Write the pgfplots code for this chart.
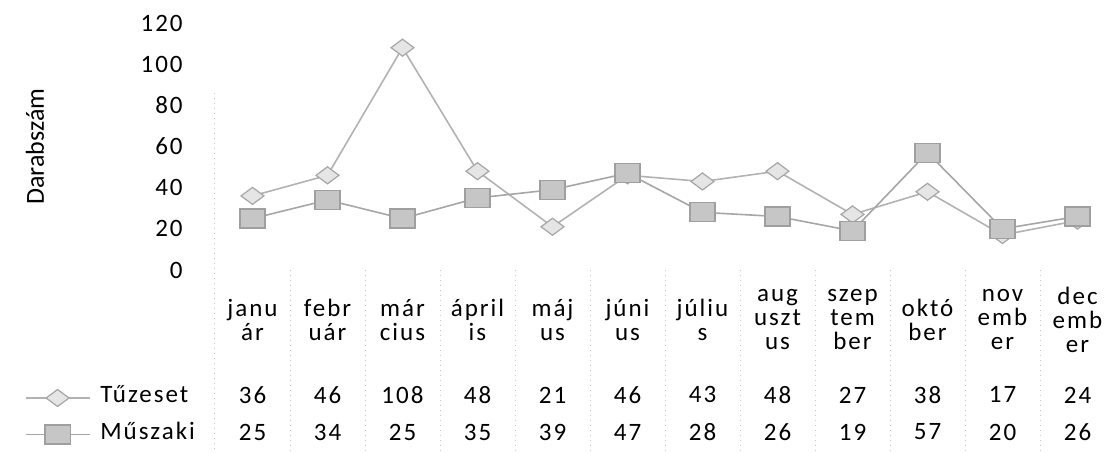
\documentclass[border=0pt]{standalone}
\usepackage{pgfplots}
\pgfplotsset{compat=1.18}
\usepackage{pgfplotstable}
\usepackage{fontspec}
\setmainfont{Carlito}
\newfontfamily\spaced{Carlito}[LetterSpace=8]

% havi adatok
\pgfplotstableread{
x tuz musz
0 36 25
1 46 34
2 108 25
3 48 35
4 21 39
5 46 47
6 43 28
7 48 26
8 27 19
9 38 57
10 17 20
11 24 26
}\honap

\newcommand{\tablefont}{\spaced\fontsize{12.5}{12}\selectfont}

\begin{document}
\begin{tikzpicture}
\useasboundingbox (0,0) rectangle (559pt,226.5pt);
\begin{axis}[
  at={(107.5pt,91.5pt)}, anchor=south west,
  scale only axis, width=450pt, height=123.5pt,
  xmin=-0.5, xmax=11.5, ymin=0, ymax=120,
  clip=false,
  axis line style={draw=none}, major tick length=0pt,
  /pgf/number format/assume math mode=true,
  ytick={0,20,...,120},
  yticklabel style={font=\tablefont, anchor=east, inner sep=0pt, xshift=-16pt},
  xtick={0,...,11},
  xticklabels={{janu\\ár},{febr\\uár},{már\\cius},{ápril\\is},{máj\\us},{júni\\us},{júliu\\s},{aug\\uszt\\us},{szep\\tem\\ber},{októ\\ber},{nov\\emb\\er},{dec\\emb\\er}},
  xticklabel style={font=\tablefont, align=center, anchor=center, inner sep=0pt, yshift=-25pt},
  ylabel={Darabszám},
  every axis y label/.style={at={(rel axis cs:0,0.5)}, xshift=-90pt, rotate=90, anchor=center, font=\fontsize{13}{15}\selectfont},
  legend style={at={(rel axis cs:0,0)}, anchor=north east, xshift=-10pt, yshift=-59.5pt,
    draw=none, fill=none, inner sep=0pt, outer sep=0pt,
    nodes={inner sep=0pt, text height=7pt, text depth=2pt, font=\tablefont},
    /tikz/row sep=9pt},
  legend cell align=left,
  legend image code/.code={\draw[mark repeat=2,mark phase=2,#1] plot coordinates {(0pt,0pt) (16pt,0pt) (32pt,0pt)}; \path (37pt,0pt);},
]
% adattabla racsvonalai
\pgfplotsinvokeforeach{0,...,10}{\draw[gray!45, dotted, line width=0.5pt] (axis cs:#1.5,0) -- (axis cs:#1.5,-89);}
\draw[gray!45, dotted, line width=0.5pt] (axis cs:-0.5,86) -- (axis cs:-0.5,-89);

\addplot[color=gray!60, line width=0.8pt, mark=diamond*, mark size=4.25pt,
  mark options={xscale=1.8, fill=gray!20, draw=gray!70, line width=0.6pt}]
  table[x=x, y=tuz]{\honap};
\addlegendentry{Tűzeset}
\addplot[color=gray!70, line width=0.8pt, mark=square*, mark size=4.75pt,
  mark options={xscale=1.32, fill=gray!45, draw=gray!75, line width=0.6pt}]
  table[x=x, y=musz]{\honap};
\addlegendentry{Műszaki}

% ertekek a tablazatban
\addplot[forget plot, draw=none, mark=none, point meta=explicit symbolic,
  nodes near coords={\pgfplotspointmeta},
  nodes near coords style={anchor=center, font=\tablefont, inner sep=0pt}]
  table[x=x, y expr=-60.7, meta=tuz]{\honap};
\addplot[forget plot, draw=none, mark=none, point meta=explicit symbolic,
  nodes near coords={\pgfplotspointmeta},
  nodes near coords style={anchor=center, font=\tablefont, inner sep=0pt}]
  table[x=x, y expr=-78.7, meta=musz]{\honap};
\end{axis}
\end{tikzpicture}
\end{document}
